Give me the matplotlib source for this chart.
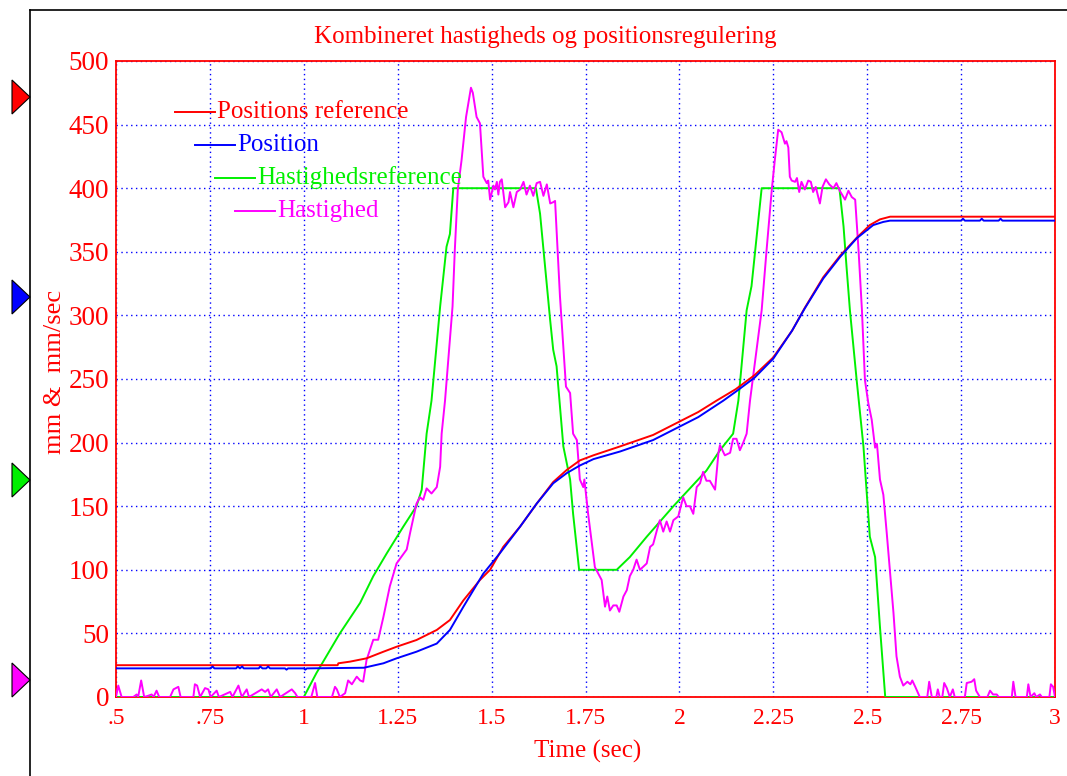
import matplotlib
matplotlib.use("Agg")
import matplotlib.pyplot as plt
from matplotlib.patches import Polygon
from matplotlib.lines import Line2D

plt.rcParams['font.family'] = ['Liberation Serif', 'DejaVu Serif']

# ---------------- data ----------------
title = "Kombineret hastigheds og positionsregulering"
xlabel = "Time (sec)"
ylabel = "mm &  mm/sec"
xticks = [0.5, 0.75, 1.0, 1.25, 1.5, 1.75, 2.0, 2.25, 2.5, 2.75, 3.0]
xticklabels = [".5", ".75", "1", "1.25", "1.5", "1.75", "2", "2.25", "2.5", "2.75", "3"]
yticks = [0, 50, 100, 150, 200, 250, 300, 350, 400, 450, 500]
series_names = ["Positions reference", "Position", "Hastighedsreference", "Hastighed"]

# Positions reference (red)
pref_t = [0.5, 1.09, 1.092, 1.123, 1.167, 1.212, 1.247, 1.30, 1.354, 1.389, 1.425,
          1.469, 1.496, 1.531, 1.576, 1.62, 1.664, 1.70, 1.735, 1.771, 1.842, 1.93,
          2.0, 2.05, 2.099, 2.15, 2.2, 2.25, 2.3, 2.334, 2.383, 2.428, 2.472, 2.507,
          2.534, 2.561, 3.0]
pref_v = [25, 25, 26.5, 27.8, 30.4, 35.6, 39.5, 44.8, 52.7, 60.5, 76,
          92, 100, 118, 134, 152, 169, 178.5, 186, 190, 197, 206,
          216.5, 224, 233, 242, 253, 267, 288, 306, 330, 347, 361, 371,
          375.5, 377.6, 377.6]

# Position (blue)
pos_t = [0.5, 0.752, 0.757, 0.762, 0.82, 0.824, 0.83, 0.836, 0.84, 0.88, 0.884,
         0.89, 0.9, 0.905, 0.91, 0.95, 0.954, 0.958, 1.0, 1.004, 1.008, 1.16,
         1.212, 1.247, 1.30, 1.354, 1.389, 1.425, 1.478, 1.522, 1.576, 1.62, 1.664,
         1.70, 1.735, 1.771, 1.842, 1.93, 2.0, 2.05, 2.117, 2.15, 2.2, 2.25, 2.3,
         2.334, 2.383, 2.428, 2.472, 2.516, 2.543, 2.561, 2.75, 2.755, 2.76, 2.8,
         2.805, 2.81, 2.85, 2.855, 2.86, 3.0]
pos_v = [22.5, 22.5, 24, 22.5, 22.5, 24, 22.5, 24, 22.5, 22.5, 24,
         22.5, 22.5, 24, 22.5, 22.5, 21.5, 22.5, 22.5, 21.5, 22.5, 23,
         26.5, 30.4, 35.6, 42, 52.7, 71, 97, 113, 134, 152, 168,
         176, 182, 187, 193, 202, 212.5, 220, 233, 240, 251, 266, 288,
         305.6, 329, 346, 360.6, 371, 373.5, 374.5, 374.5, 376, 374.5, 374.5,
         376, 374.5, 374.5, 376, 374.5, 374.5]

# Hastighedsreference (green)
vref_t = [0.5, 1.0, 1.034, 1.096, 1.15, 1.185, 1.221, 1.265, 1.30, 1.314, 1.327,
          1.34, 1.363, 1.38, 1.389, 1.398, 1.618, 1.629, 1.638, 1.656, 1.664, 1.673,
          1.691, 1.709, 1.717, 1.733, 1.833, 1.868, 1.913, 1.984, 2.072, 2.108,
          2.143, 2.157, 2.179, 2.192, 2.219, 2.426, 2.437, 2.445, 2.454, 2.472,
          2.49, 2.507, 2.521, 2.534, 2.548, 3.0]
vref_v = [0, 0, 19, 50, 74, 95, 113, 134, 150, 163, 207,
          233, 307, 354, 364, 400, 400, 380, 352, 296, 273, 260,
          197, 171, 144, 100, 100, 110, 126, 150, 178, 194,
          207, 233, 304, 323, 400, 400, 370, 338, 304, 249,
          197, 126, 110, 55, 0, 0]

# Hastighed (magenta)
vel_t = [0.5, 0.506, 0.515, 0.546, 0.555, 0.559, 0.567, 0.575, 0.586, 0.595, 0.6,
         0.608, 0.615, 0.644, 0.653, 0.666, 0.672, 0.706, 0.71, 0.716, 0.724, 0.737,
         0.746, 0.752, 0.768, 0.774, 0.804, 0.81, 0.826, 0.835, 0.848, 0.854, 0.888,
         0.897, 0.905, 0.912, 0.928, 0.937, 0.968, 0.977, 0.983, 1.02, 1.03, 1.036,
         1.075, 1.083, 1.088, 1.096, 1.11, 1.118, 1.128, 1.141, 1.15, 1.158, 1.167,
         1.185, 1.198, 1.212, 1.229, 1.247, 1.274, 1.283, 1.30, 1.309, 1.318, 1.327,
         1.34, 1.354, 1.363, 1.367, 1.376, 1.396, 1.402, 1.41, 1.42, 1.432, 1.445,
         1.45, 1.46, 1.469, 1.478, 1.487, 1.491, 1.496, 1.505, 1.509, 1.514, 1.518,
         1.522, 1.527, 1.536, 1.545, 1.549, 1.558, 1.567, 1.576, 1.585, 1.593, 1.602,
         1.611, 1.62, 1.629, 1.638, 1.647, 1.656, 1.664, 1.669, 1.673, 1.682, 1.691,
         1.698, 1.709, 1.717, 1.727, 1.735, 1.744, 1.747, 1.757, 1.766, 1.775, 1.784,
         1.793, 1.802, 1.808, 1.815, 1.824, 1.833, 1.84, 1.851, 1.86, 1.868, 1.877,
         1.886, 1.895, 1.913, 1.922, 1.93, 1.94, 1.948, 1.957, 1.966, 1.975, 1.984,
         1.997, 2.01, 2.019, 2.028, 2.037, 2.046, 2.055, 2.063, 2.072, 2.081, 2.095,
         2.104, 2.108, 2.121, 2.135, 2.143, 2.152, 2.161, 2.17, 2.179, 2.188, 2.219,
         2.232, 2.246, 2.254, 2.263, 2.272, 2.281, 2.285, 2.29, 2.294, 2.299, 2.308,
         2.313, 2.319, 2.325, 2.334, 2.343, 2.35, 2.356, 2.363, 2.374, 2.381, 2.39,
         2.399, 2.41, 2.418, 2.427, 2.441, 2.45, 2.459, 2.468, 2.477, 2.486, 2.494,
         2.503, 2.512, 2.521, 2.526, 2.534, 2.543, 2.552, 2.561, 2.57, 2.578, 2.587,
         2.596, 2.607, 2.615, 2.62, 2.628, 2.64, 2.66, 2.665, 2.672, 2.684, 2.688,
         2.693, 2.70, 2.705, 2.712, 2.72, 2.728, 2.733, 2.76, 2.765, 2.778, 2.785,
         2.79, 2.80, 2.82, 2.827, 2.835, 2.845, 2.85, 2.885, 2.889, 2.895, 2.925,
         2.929, 2.935, 2.945, 2.95, 2.96, 2.965, 2.985, 2.989, 2.995, 3.0]
vel_v = [0, 9, 0, 0, 2, 0, 13, 0, 1, 2, 0,
         5, 0, 0, 6, 8, 0, 0, 10, 9, 0, 7,
         6, 0, 5, 0, 4, 0, 9, 0, 6, 0, 6,
         4, 6, 0, 6, 0, 6, 3, 0, 0, 11, 0,
         0, 8, 6, 0, 3, 13, 10, 16, 13, 12, 29,
         45, 45, 63, 87, 105, 116, 129, 152, 157, 155, 164,
         160, 165, 181, 207, 233, 307, 351, 399, 422, 456, 479,
         475, 456, 451, 409, 404, 406, 391, 402, 399, 405, 395,
         405, 407, 385, 389, 397, 385, 397, 399, 405, 395, 402,
         394, 404, 405, 394, 403, 388, 389, 390, 367, 315, 275,
         244, 239, 207, 202, 171, 165, 171, 144, 123, 102, 97,
         92, 71, 79, 68, 72, 72, 67, 79, 84, 95, 100,
         108, 100, 105, 118, 120, 131, 139, 130, 138, 130, 139,
         142, 157, 150, 150, 144, 165, 168, 177, 170, 170, 163,
         192, 198, 190, 192, 203, 203, 194, 200, 207, 233, 304,
         351, 399, 422, 446, 444, 435, 437, 432, 409, 406, 405,
         408, 397, 405, 399, 406, 405, 397, 401, 388, 401, 407,
         403, 400, 404, 398, 391, 398, 393, 391, 351, 304, 249,
         231, 218, 196, 199, 171, 159, 129, 97, 66, 32, 16,
         9, 12, 10, 13, 8, 0, 0, 12, 0, 0, 6,
         0, 0, 11, 7, 0, 6, 0, 0, 11, 12, 14,
         5, 0, 0, 5, 2, 2, 0, 0, 12, 0, 0,
         10, 0, 3, 0, 2, 0, 0, 10, 8, 0]

RED = "#ff0000"
BLUE = "#0000ff"
GREEN = "#00f000"
MAG = "#ff00ff"

W, H = 1067, 776
fig = plt.figure(figsize=(W / 100, H / 100), dpi=100)
fig.patch.set_facecolor("white")

# axes placement
L, R, T, B = 116, 1055, 61, 697
ax = fig.add_axes([L / W, (H - B) / H, (R - L) / W, (B - T) / H])

ax.plot(vref_t, vref_v, color=GREEN, lw=1.4, zorder=3)
ax.plot(vel_t, vel_v, color=MAG, lw=1.4, zorder=4)
ax.plot(pref_t, pref_v, color=RED, lw=1.4, zorder=5)
ax.plot(pos_t, pos_v, color=BLUE, lw=1.4, zorder=6)

ax.set_xlim(0.5, 3.0)
ax.set_ylim(0, 500)
ax.set_xticks(xticks)
ax.set_xticklabels(xticklabels)
ax.set_yticks(yticks)
ax.tick_params(axis="x", length=0, labelsize=17, labelcolor=RED, pad=8)
ax.tick_params(axis="y", length=0, labelsize=19.5, labelcolor=RED, pad=5)
ax.grid(True, color=BLUE, linestyle=(0, (1, 2.5)), linewidth=1.0)
for s in ax.spines.values():
    s.set_color(RED)
    s.set_linewidth(1.3)
    s.set_zorder(2)

def px(x, y):
    return (x / W, (H - y) / H)

fig.text(*px(545, 37), title, color=RED, fontsize=18, ha="center", va="center")
fig.text(*px(588, 751), xlabel, color=RED, fontsize=18, ha="center", va="center")
fig.text(*px(55, 372), ylabel, color=RED, fontsize=19, ha="center", va="center",
         rotation=90)

# custom staggered legend
colors = [RED, BLUE, GREEN, MAG]
leg_x0 = [175, 195, 215, 235]
leg_y = [112, 145, 178, 211]
for name, c, x0, yy in zip(series_names, colors, leg_x0, leg_y):
    fx0 = (x0 - L) / (R - L)
    fx1 = (x0 + 40 - L) / (R - L)
    fy = (B - yy) / (B - T)
    ax.add_line(Line2D([fx0, fx1], [fy, fy], color=c, lw=1.4,
                       transform=ax.transAxes, zorder=7))
    ax.text(fx1 + 0.002, fy, name, color=c, fontsize=18, va="center",
            ha="left", transform=ax.transAxes, zorder=7)

# outer frame lines and channel markers
fig.add_artist(Line2D([30 / W, 30 / W], [0, (H - 10) / H], color="black",
                      lw=1.2, transform=fig.transFigure))
fig.add_artist(Line2D([30 / W, 1], [(H - 10) / H, (H - 10) / H], color="black",
                      lw=1.2, transform=fig.transFigure))
for c, yy in zip(colors, [97, 297, 480, 680]):
    tri = Polygon([px(12, yy - 17), px(30, yy), px(12, yy + 17)], closed=True,
                  facecolor=c, edgecolor="black", lw=0.8,
                  transform=fig.transFigure)
    fig.add_artist(tri)

fig.savefig("out.png", dpi=100, facecolor="white")
